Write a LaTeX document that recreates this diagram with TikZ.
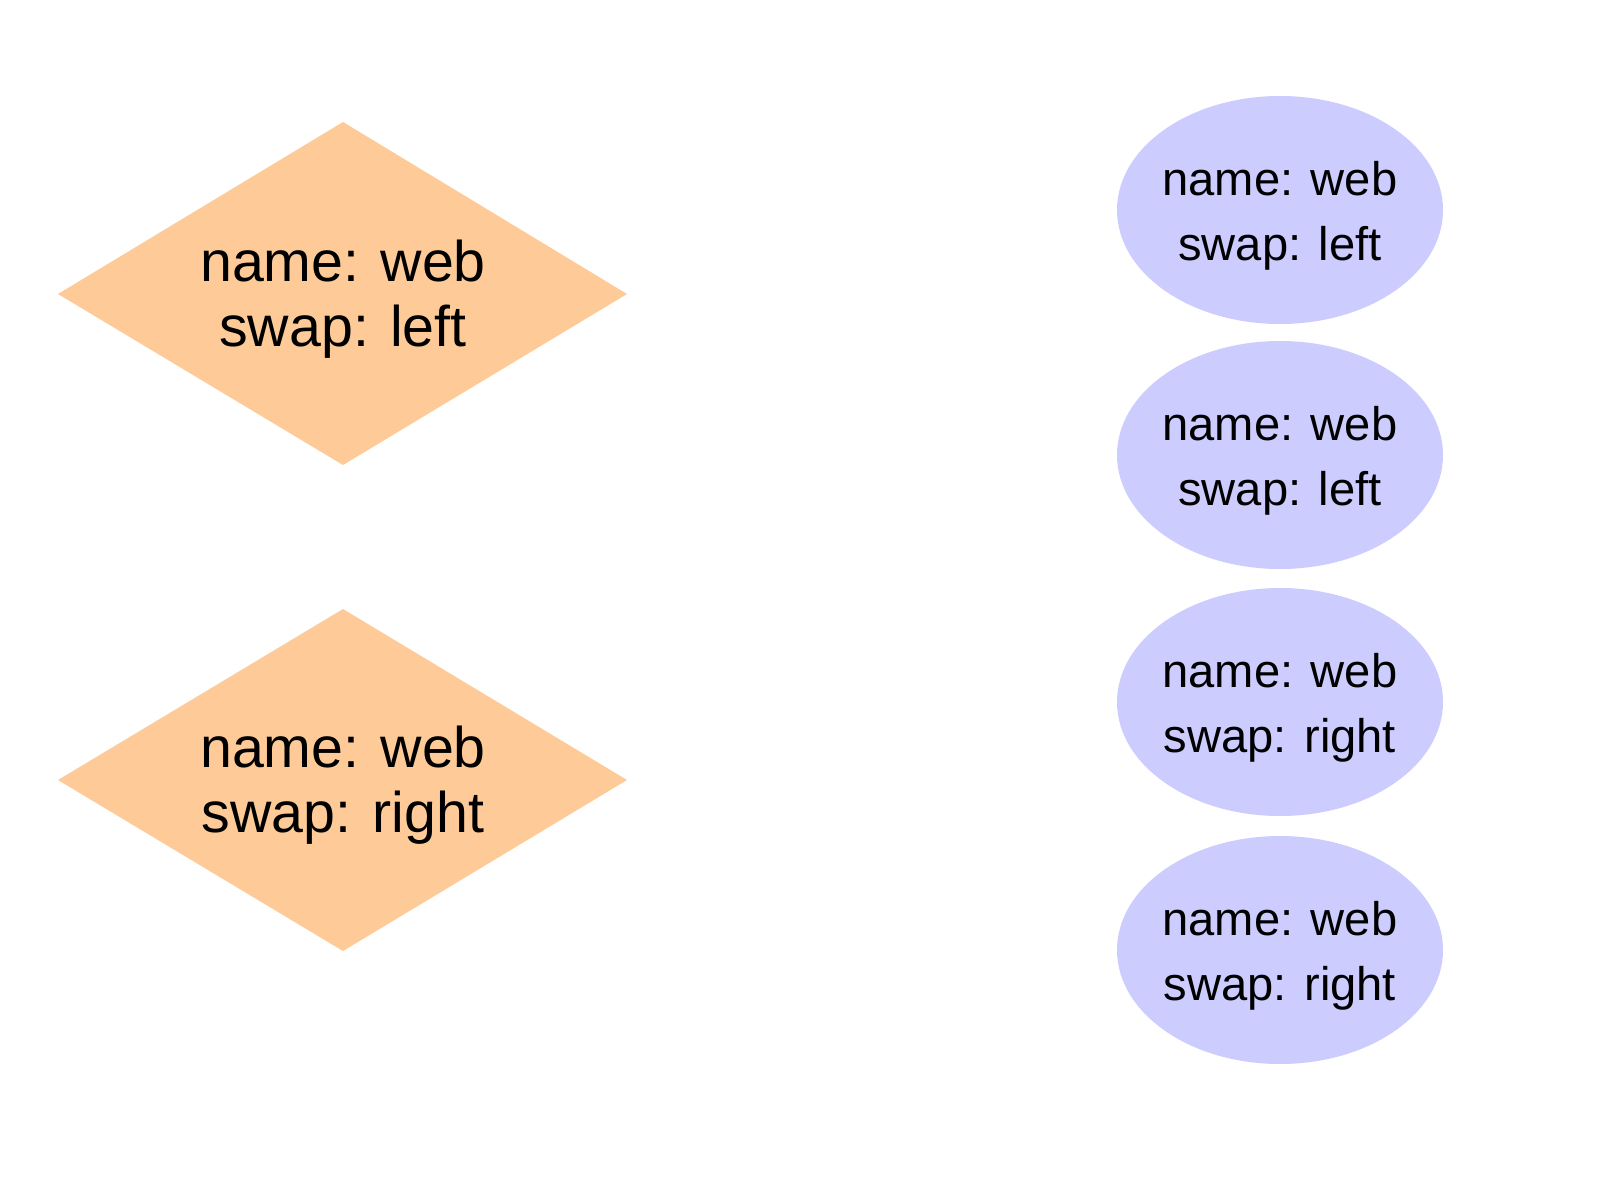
\documentclass[tikz,border=0pt]{standalone}
\usepackage{fontspec}
\setmainfont{Liberation Sans}
\definecolor{peach}{HTML}{FECB98}
\definecolor{lav}{HTML}{CCCCFF}
\begin{document}
\begin{tikzpicture}[x=0.01cm,y=-0.01cm,
  diafill/.style={fill=peach, draw=none},
  ellfill/.style={fill=lav, draw=none},
  diatext/.style={inner sep=0pt, align=center, font=\fontsize{16.3pt}{18.6pt}\selectfont},
  elltext/.style={inner sep=0pt, align=center, font=\fontsize{13.4pt}{18.6pt}\selectfont}]
\useasboundingbox[fill=white] (0,0) rectangle (1600,1200);
% diamonds
\fill[diafill] (58,294) -- (343,122) -- (627,294) -- (343,465) -- cycle;
\fill[diafill] (58,780) -- (343,609) -- (627,780) -- (343,951) -- cycle;
\node[diatext] (d1) at (343,299) {name: web\\swap: left};
\node[diatext] (d2) at (343,785) {name: web\\swap: right};
% ellipses
\fill[ellfill] (1280,210) ellipse [x radius=163, y radius=114];
\fill[ellfill] (1280,455) ellipse [x radius=163, y radius=114];
\fill[ellfill] (1280,702) ellipse [x radius=163, y radius=114];
\fill[ellfill] (1280,950) ellipse [x radius=163, y radius=114];
\node[elltext] (e1) at (1280,216) {name: web\\swap: left};
\node[elltext] (e2) at (1280,461) {name: web\\swap: left};
\node[elltext] (e3) at (1280,708) {name: web\\swap: right};
\node[elltext] (e4) at (1280,956) {name: web\\swap: right};
\end{tikzpicture}
\end{document}
